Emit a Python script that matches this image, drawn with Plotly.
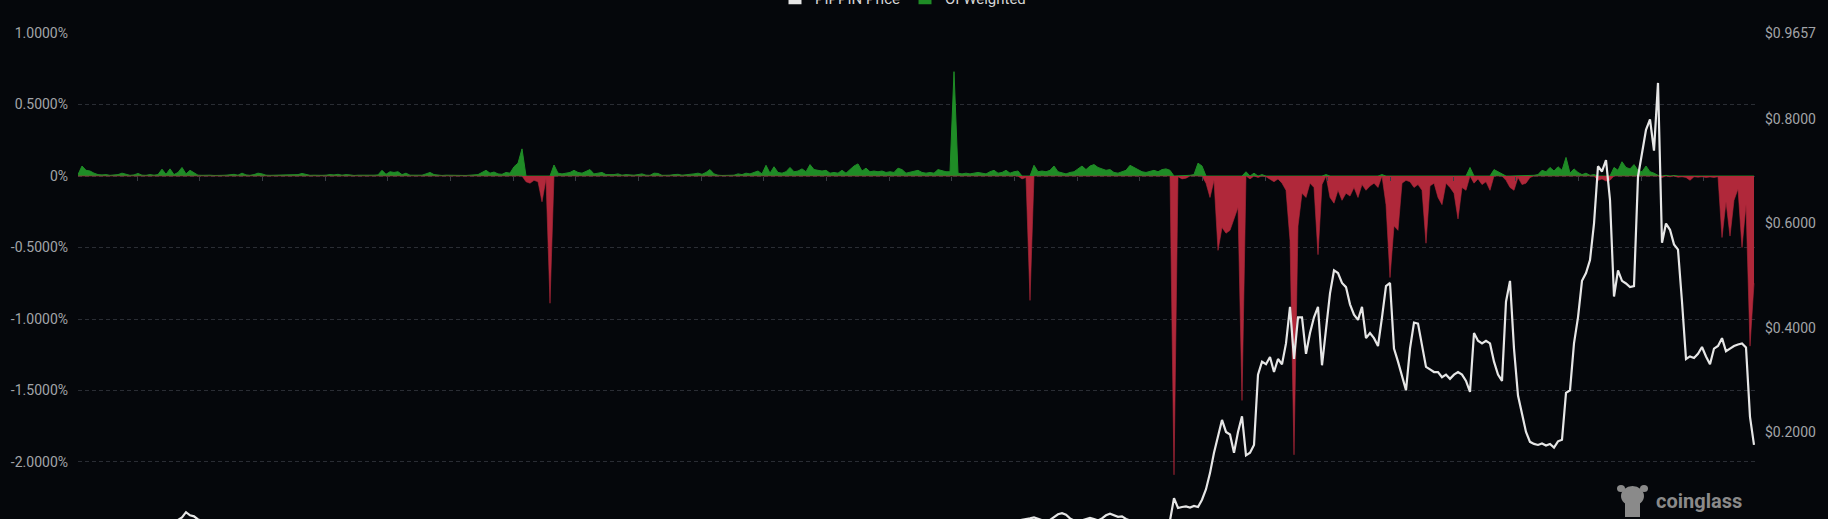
import plotly.graph_objects as go

# ---------------- data ----------------
# OI-weighted funding rate, in percent, one value per period
funding = [
    0.01, 0.07, 0.04, 0.035, 0.02, 0.01, 0.008, 0.01, 0.005, 0.008,
    0.01, 0.02, 0.015, 0.005, 0.008, 0.018, 0.006, 0.005, 0.01, 0.006,
    0.01, 0.048, 0.012, 0.05, 0.01, 0.025, 0.06, 0.015, 0.04, 0.02,
    0.006, 0.005, 0.008, 0.006, 0.004, 0.007, 0.005, 0.006, 0.008, 0.012,
    0.006, 0.02, 0.008, 0.005, 0.01, 0.02, 0.015, 0.006, 0.005, 0.006,
    0.004, 0.007, 0.005, 0.006, 0.008, 0.01, 0.018, 0.01, 0.005, 0.006,
    0.004, 0.005, 0.006, 0.01, 0.008, 0.012, 0.006, 0.01, 0.008, 0.004,
    0.006, 0.005, 0.007, 0.005, 0.006, 0.008, 0.04, 0.012, 0.03, 0.025,
    0.03, 0.01, 0.02, 0.006, 0.005, 0.004, 0.006, 0.015, 0.025, 0.01,
    0.005, 0.004, 0.006, 0.005, 0.004, 0.006, 0.005, 0.004, 0.006, 0.008,
    0.01, 0.025, 0.04, 0.02, 0.028, 0.015, 0.012, 0.025, 0.02, 0.065,
    0.09, 0.19, -0.04, -0.05, -0.03, -0.04, -0.18, -0.02, -0.89, 0.077,
    0.02, 0.015, 0.02, 0.025, 0.04, 0.025, 0.02, 0.03, 0.045, 0.015,
    0.02, 0.025, 0.01, 0.008, 0.01, 0.015, 0.006, 0.01, 0.008, 0.006,
    0.01, 0.015, 0.006, 0.005, 0.02, 0.018, 0.005, 0.004, 0.006, 0.01,
    0.012, 0.006, 0.008, 0.01, 0.015, 0.02, 0.012, 0.025, 0.045, 0.015,
    0.006, 0.004, 0.005, 0.004, 0.006, 0.015, 0.01, 0.02, 0.015, 0.025,
    0.035, 0.015, 0.075, 0.02, 0.065, 0.025, 0.02, 0.03, 0.06, 0.03,
    0.035, 0.05, 0.03, 0.08, 0.045, 0.04, 0.035, 0.04, 0.02, 0.025,
    0.02, 0.04, 0.02, 0.045, 0.07, 0.085, 0.035, 0.055, 0.03, 0.035,
    0.03, 0.035, 0.025, 0.03, 0.025, 0.055, 0.045, 0.02, 0.025, 0.03,
    0.04, 0.025, 0.02, 0.025, 0.02, 0.045, 0.035, 0.03, 0.03, 0.73,
    0.02, 0.015, 0.02, 0.015, 0.02, 0.025, 0.02, 0.015, 0.03, 0.04,
    0.02, 0.025, 0.04, 0.02, 0.03, 0.035, -0.02, -0.01, -0.87, 0.075,
    0.03, 0.035, 0.03, 0.04, 0.07, 0.03, 0.02, 0.015, 0.025, 0.03,
    0.05, 0.07, 0.045, 0.07, 0.08, 0.06, 0.05, 0.04, 0.045, 0.025,
    0.02, 0.03, 0.04, 0.075, 0.06, 0.04, 0.03, 0.025, 0.035, 0.04,
    0.03, 0.045, 0.05, 0.04, -2.09, -0.005, -0.02, -0.015, 0.005, 0.01,
    0.09, 0.07, -0.05, -0.15, -0.03, -0.52, -0.36, -0.4, -0.38, -0.3,
    -0.22, -1.57, 0.03, -0.02, 0.02, -0.01, 0.01, -0.005, -0.02, -0.04,
    -0.02, -0.05, -0.1, -0.45, -1.95, -0.35, -0.12, -0.15, -0.05, -0.08,
    -0.55, -0.06, 0.01, -0.15, -0.19, -0.1, -0.17, -0.12, -0.14, -0.08,
    -0.15, -0.06, -0.1, -0.07, -0.05, -0.08, 0.01, -0.2, -0.71, -0.35,
    -0.38, -0.05, -0.03, -0.04, -0.08, -0.06, -0.1, -0.47, -0.07, -0.05,
    -0.15, -0.2, -0.05, -0.08, -0.12, -0.3, -0.08, -0.1, 0.06, -0.05,
    -0.02, -0.06, -0.04, -0.1, 0.045, 0.03, 0.02, -0.03, -0.08, -0.1,
    -0.01, -0.06, -0.05, -0.01, 0.005, 0.01, 0.04, 0.03, 0.06, 0.035,
    0.065, 0.04, 0.13, 0.02, 0.05, 0.025, 0.01, 0.02, 0.005, 0.01,
    -0.03, -0.02, -0.035, -0.03, 0.06, 0.04, 0.1, 0.06, 0.05, 0.08,
    0.04, 0.03, 0.07, 0.03, 0.02, 0.005, -0.01, 0.005, -0.005, 0.004,
    -0.008, -0.005, -0.01, -0.03, -0.005, -0.008, -0.005, -0.01, -0.006, -0.01,
    -0.005, -0.43, -0.18, -0.42, -0.17, -0.09, -0.5, -0.2, -1.19, -0.75,
]

# PIPPIN price in USD, one value per period
price = [
    0.022, 0.021, 0.02, 0.019, 0.018, 0.019, 0.02, 0.021, 0.02, 0.019,
    0.018, 0.017, 0.018, 0.019, 0.02, 0.021, 0.022, 0.023, 0.024, 0.025,
    0.026, 0.027, 0.028, 0.029, 0.03, 0.031, 0.036, 0.046, 0.04, 0.038,
    0.032, 0.029, 0.027, 0.026, 0.027, 0.025, 0.024, 0.025, 0.026, 0.024,
    0.023, 0.022, 0.024, 0.023, 0.021, 0.022, 0.02, 0.021, 0.022, 0.02,
    0.019, 0.02, 0.021, 0.019, 0.018, 0.019, 0.02, 0.018, 0.017, 0.018,
    0.019, 0.018, 0.017, 0.016, 0.017, 0.018, 0.017, 0.016, 0.015, 0.016,
    0.017, 0.016, 0.015, 0.016, 0.017, 0.018, 0.02, 0.019, 0.018, 0.019,
    0.018, 0.017, 0.016, 0.017, 0.016, 0.015, 0.016, 0.017, 0.018, 0.017,
    0.016, 0.015, 0.014, 0.015, 0.016, 0.015, 0.014, 0.013, 0.014, 0.015,
    0.016, 0.017, 0.019, 0.018, 0.017, 0.018, 0.019, 0.02, 0.021, 0.023,
    0.026, 0.028, 0.024, 0.022, 0.021, 0.02, 0.018, 0.017, 0.016, 0.018,
    0.019, 0.018, 0.017, 0.018, 0.019, 0.02, 0.019, 0.018, 0.019, 0.02,
    0.019, 0.018, 0.017, 0.016, 0.017, 0.016, 0.015, 0.016, 0.015, 0.014,
    0.015, 0.014, 0.013, 0.014, 0.013, 0.012, 0.013, 0.014, 0.013, 0.012,
    0.013, 0.012, 0.011, 0.012, 0.013, 0.012, 0.011, 0.012, 0.013, 0.014,
    0.013, 0.012, 0.013, 0.014, 0.015, 0.014, 0.015, 0.016, 0.017, 0.016,
    0.017, 0.018, 0.019, 0.018, 0.019, 0.02, 0.019, 0.02, 0.021, 0.02,
    0.021, 0.022, 0.021, 0.022, 0.023, 0.022, 0.021, 0.022, 0.023, 0.024,
    0.023, 0.022, 0.023, 0.024, 0.025, 0.024, 0.023, 0.024, 0.025, 0.024,
    0.025, 0.026, 0.025, 0.024, 0.025, 0.026, 0.027, 0.026, 0.025, 0.026,
    0.027, 0.026, 0.025, 0.026, 0.027, 0.028, 0.027, 0.026, 0.027, 0.028,
    0.027, 0.028, 0.029, 0.028, 0.027, 0.028, 0.029, 0.03, 0.029, 0.028,
    0.029, 0.03, 0.029, 0.03, 0.031, 0.03, 0.031, 0.032, 0.034, 0.036,
    0.033, 0.03, 0.028, 0.031, 0.037, 0.042, 0.044, 0.041, 0.034, 0.03,
    0.028, 0.03, 0.032, 0.035, 0.033, 0.03, 0.034, 0.04, 0.043, 0.04,
    0.037, 0.038, 0.033, 0.03, 0.028, 0.027, 0.026, 0.028, 0.027, 0.029,
    0.028, 0.03, 0.029, 0.03, 0.073, 0.054, 0.056, 0.057, 0.055, 0.058,
    0.056, 0.07, 0.09, 0.121, 0.16, 0.19, 0.223, 0.2, 0.195, 0.16,
    0.2, 0.23, 0.155, 0.16, 0.175, 0.31, 0.335, 0.33, 0.344, 0.315,
    0.34, 0.33, 0.37, 0.44, 0.34, 0.42, 0.42, 0.35, 0.39, 0.42,
    0.44, 0.328, 0.4, 0.466, 0.51, 0.505, 0.486, 0.478, 0.445, 0.425,
    0.415, 0.44, 0.38, 0.39, 0.38, 0.365, 0.42, 0.48, 0.486, 0.36,
    0.335, 0.305, 0.28, 0.36, 0.41, 0.408, 0.37, 0.325, 0.32, 0.315,
    0.315, 0.305, 0.31, 0.302, 0.31, 0.315, 0.31, 0.298, 0.277, 0.39,
    0.375, 0.37, 0.375, 0.37, 0.335, 0.31, 0.298, 0.45, 0.49, 0.36,
    0.27, 0.232, 0.2, 0.181, 0.177, 0.175, 0.178, 0.174, 0.177, 0.17,
    0.182, 0.185, 0.275, 0.28, 0.37, 0.42, 0.49, 0.505, 0.53, 0.6,
    0.71, 0.7, 0.722, 0.645, 0.46, 0.51, 0.49, 0.485, 0.478, 0.48,
    0.69, 0.735, 0.78, 0.8, 0.74, 0.87, 0.563, 0.6, 0.588, 0.56,
    0.55, 0.45, 0.34, 0.345, 0.342, 0.35, 0.363, 0.345, 0.33, 0.36,
    0.365, 0.38, 0.355, 0.36, 0.365, 0.368, 0.37, 0.362, 0.229, 0.175,
]

funding_ticks = [1.0, 0.5, 0.0, -0.5, -1.0, -1.5, -2.0]
funding_tick_text = ["1.0000%", "0.5000%", "0%", "-0.5000%", "-1.0000%", "-1.5000%", "-2.0000%"]
price_ticks = [0.2, 0.4, 0.6, 0.8, 0.9657]
price_tick_text = ["$0.2000", "$0.4000", "$0.6000", "$0.8000", "$0.9657"]

# ---------------- styling ----------------
BG = "#05070b"
GREEN = "#1f8c26"
RED = "#b0283a"
PRICE_COLOR = "#e6e6e6"
TICK_COLOR = "#a2a4a8"
GRID_COLOR = "#2a2d34"

W, H = 1828, 519
ML, MR, MT, MB = 78, 73, 33, 0
PW, PH = W - ML - MR, H - MT - MB

x_f = list(range(len(funding)))
x_p = list(range(len(price)))
pos = [v if v > 0 else 0 for v in funding]
neg = [v if v < 0 else 0 for v in funding]

fig = go.Figure()

fig.add_trace(go.Scatter(
    x=x_f, y=pos, mode="lines", fill="tozeroy",
    line=dict(color=GREEN, width=1), fillcolor=GREEN,
    showlegend=False, hoverinfo="skip", yaxis="y",
))
fig.add_trace(go.Scatter(
    x=x_f, y=neg, mode="lines", fill="tozeroy",
    line=dict(color=RED, width=0.6), fillcolor=RED,
    showlegend=False, hoverinfo="skip", yaxis="y",
))
fig.add_trace(go.Scatter(
    x=x_p, y=price, mode="lines",
    line=dict(color=PRICE_COLOR, width=2.2),
    showlegend=False, yaxis="y2",
))

# legend entries (square swatches)
fig.add_trace(go.Scatter(
    x=[None], y=[None], mode="markers", name="PIPPIN Price",
    marker=dict(symbol="square", size=13, color=PRICE_COLOR), yaxis="y2",
))
fig.add_trace(go.Scatter(
    x=[None], y=[None], mode="markers", name="OI Weighted",
    marker=dict(symbol="square", size=13, color=GREEN), yaxis="y",
))

f_lo, f_hi = -2.399, 1.0005
p_lo, p_hi = 0.0329, 0.9658
zero_pos = (0 - f_lo) / (f_hi - f_lo)


def px_x(px):
    return (px - ML) / PW


def px_y(py):
    return 1 - (py - MT) / PH


fig.update_layout(
    width=W, height=H,
    margin=dict(l=ML, r=MR, t=MT, b=MB, autoexpand=False),
    paper_bgcolor=BG, plot_bgcolor=BG,
    font=dict(family="Roboto, Noto Sans, sans-serif", color=TICK_COLOR, size=14),
    xaxis=dict(
        range=[0, (PW) / 4.0], anchor="free", position=zero_pos,
        showgrid=False, zeroline=False, showline=False,
        showticklabels=False, ticks="outside", ticklen=4,
        tickcolor="#3a3d44", tick0=14.75, dtick=15.667,
    ),
    yaxis=dict(
        range=[f_lo, f_hi], side="left",
        tickvals=funding_ticks, ticktext=funding_tick_text,
        showgrid=True, gridcolor=GRID_COLOR, griddash="4px,3px", gridwidth=1,
        zeroline=False, showline=False, ticks="", ticklabelstandoff=9,
        tickfont=dict(size=14, color=TICK_COLOR),
    ),
    yaxis2=dict(
        range=[p_lo, p_hi], side="right", overlaying="y",
        tickvals=price_ticks, ticktext=price_tick_text,
        showgrid=False, zeroline=False, showline=False, ticks="",
        ticklabelstandoff=9,
        tickfont=dict(size=14, color=TICK_COLOR),
    ),
    legend=dict(
        orientation="h", x=px_x(775), xanchor="left",
        y=px_y(-2), yanchor="middle",
        font=dict(size=15, color="#d6d6d6"),
        bgcolor="rgba(0,0,0,0)", itemclick=False,
    ),
    showlegend=True,
    hovermode=False,
)

# coinglass watermark
fig.add_annotation(
    text="<b>coinglass</b>", xref="paper", yref="paper",
    x=px_x(1744), y=px_y(501), xanchor="right", yanchor="middle",
    showarrow=False, font=dict(family="Roboto", size=20, color="#8a8a8a"),
)
LOGO = "#8a8a8a"
fig.add_shape(type="circle", xref="paper", yref="paper",
              x0=px_x(1621), x1=px_x(1644), y0=px_y(506), y1=px_y(486),
              fillcolor=LOGO, line=dict(width=0))
fig.add_shape(type="rect", xref="paper", yref="paper",
              x0=px_x(1625), x1=px_x(1640), y0=px_y(517), y1=px_y(500),
              fillcolor=LOGO, line=dict(width=0))
fig.add_shape(type="circle", xref="paper", yref="paper",
              x0=px_x(1617), x1=px_x(1625), y0=px_y(492), y1=px_y(485),
              fillcolor=LOGO, line=dict(width=0))
fig.add_shape(type="circle", xref="paper", yref="paper",
              x0=px_x(1640), x1=px_x(1648), y0=px_y(492), y1=px_y(485),
              fillcolor=LOGO, line=dict(width=0))

fig.write_html(
    "out.html",
    config={"displayModeBar": False},
    post_script="document.body.style.margin='0';document.body.style.overflow='hidden';"
                "document.body.style.background='" + BG + "';",
)
